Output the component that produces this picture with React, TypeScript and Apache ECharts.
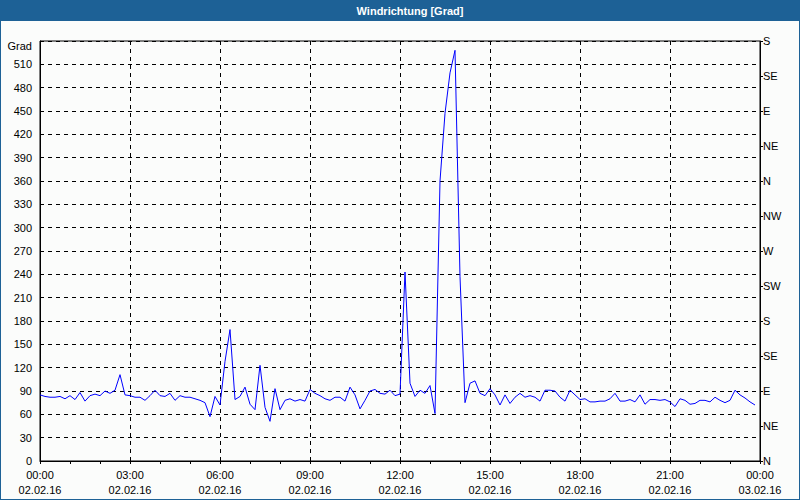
import React, { useEffect, useRef } from "react";
import * as echarts from "echarts";

// Wind direction in degrees, one value every 10 minutes from 02.02.16 00:00
const stepMinutes = 10;
const windValues: number[] = [
  85, 83, 82, 82, 83, 80, 84, 79, 88, 77, 84, 86, 84, 90, 87, 91, 111, 85, 84, 82,
  82, 78, 84, 91, 84, 83, 87, 78, 84, 82, 82, 80, 78, 75, 57, 83, 72, 128, 169, 79,
  83, 95, 73, 66, 123, 69, 51, 93, 66, 78, 80, 77, 79, 77, 92, 87, 84, 80, 78, 82,
  82, 77, 95, 85, 67, 78, 90, 92, 87, 86, 91, 84, 86, 243, 100, 83, 91, 87, 97, 61,
  360, 447, 499, 528, 237, 75, 100, 103, 87, 84, 93, 85, 72, 85, 74, 82, 87, 82, 84, 82,
  77, 91, 91, 90, 82, 77, 91, 85, 79, 80, 76, 76, 77, 77, 80, 87, 77, 77, 79, 76,
  85, 73, 79, 79, 78, 79, 76, 70, 80, 78, 73, 74, 78, 78, 76, 82, 78, 75, 78, 91,
  85, 81, 76, 72,
];

const compassLabels = ["N", "NE", "E", "SE", "S", "SW", "W", "NW", "N", "NE", "E", "SE", "S"];
const dayLabels = ["02.02.16", "03.02.16"];
const titleText = "Windrichtung [Grad]";
const unitLabel = "Grad";

const FONT = "Liberation Sans";

function pad(n: number) {
  return n < 10 ? "0" + n : String(n);
}

export default function App() {
  const ref = useRef<HTMLDivElement>(null);
  useEffect(() => {
    if (!ref.current) return;
    const chart = echarts.init(ref.current, undefined, { renderer: "svg" });
    const data = windValues.map((v, i) => [i * stepMinutes, v]);
    chart.setOption({
      animation: false,
      backgroundColor: "#FBFCFB",
      textStyle: { fontFamily: FONT },
      graphic: [
        {
          type: "rect",
          shape: { x: 0, y: 0, width: 800, height: 21 },
          style: { fill: "#1D6196" },
          z: 10,
        },
        {
          type: "text",
          x: 410,
          y: 11,
          z: 11,
          style: {
            text: titleText,
            fill: "#ffffff",
            font: `bold 11px "${FONT}"`,
            align: "center",
            verticalAlign: "middle",
          },
        },
        {
          type: "rect",
          shape: { x: 0, y: 0, width: 800, height: 500 },
          style: { fill: "none", stroke: "#1D6196", lineWidth: 2 },
          z: 10,
        },
      ],
      grid: {
        left: 40,
        top: 41,
        width: 720,
        height: 420,
        show: true,
        borderColor: "#000",
        borderWidth: 1,
        backgroundColor: "transparent",
      },
      xAxis: {
        type: "value",
        min: 0,
        max: 1440,
        interval: 180,
        axisLine: { show: true, lineStyle: { color: "#000", width: 1 } },
        axisTick: { show: true, length: 3, lineStyle: { color: "#000" } },
        minorTick: { show: true, splitNumber: 3, length: 3, lineStyle: { color: "#000" } },
        splitLine: { show: true, lineStyle: { color: "#000", type: [4, 4], width: 1 } },
        axisLabel: {
          color: "#000",
          fontSize: 11,
          fontFamily: FONT,
          lineHeight: 15,
          margin: 6,
          formatter: (v: number) => {
            const day = Math.floor(v / 1440);
            const m = v % 1440;
            return pad(Math.floor(m / 60)) + ":" + pad(m % 60) + "\n" + dayLabels[day];
          },
        },
      },
      yAxis: [
        {
          type: "value",
          position: "left",
          min: 0,
          max: 540,
          interval: 30,
          axisLine: { show: true, lineStyle: { color: "#000", width: 1 } },
          axisTick: { show: false },
          splitLine: { show: true, lineStyle: { color: "#000", type: [4, 4], width: 1 } },
          axisLabel: {
            color: "#000",
            fontSize: 11,
            fontFamily: FONT,
            margin: 8,
            formatter: (v: number) => (v === 540 ? "{g|" + unitLabel + "}" : String(v)),
            rich: { g: { fontSize: 11, fontFamily: FONT, color: "#000", padding: [9, 0, 0, 0] } },
          },
        },
        {
          type: "value",
          position: "right",
          min: 0,
          max: 540,
          interval: 45,
          axisLine: { show: true, lineStyle: { color: "#000", width: 1 } },
          axisTick: { show: true, length: 3, lineStyle: { color: "#000" } },
          splitLine: { show: false },
          axisLabel: {
            color: "#000",
            fontSize: 11,
            fontFamily: FONT,
            margin: 3,
            formatter: (v: number) => compassLabels[Math.round(v / 45)] ?? "",
          },
        },
      ],
      series: [
        {
          type: "line",
          yAxisIndex: 0,
          data,
          showSymbol: false,
          symbol: "none",
          lineStyle: { color: "#0000FF", width: 1 },
          itemStyle: { color: "#0000FF" },
        },
      ],
    });
    return () => chart.dispose();
  }, []);
  return (
    <div
      ref={ref}
      style={{ position: "absolute", left: 0, top: 0, width: 800, height: 500 }}
    />
  );
}
